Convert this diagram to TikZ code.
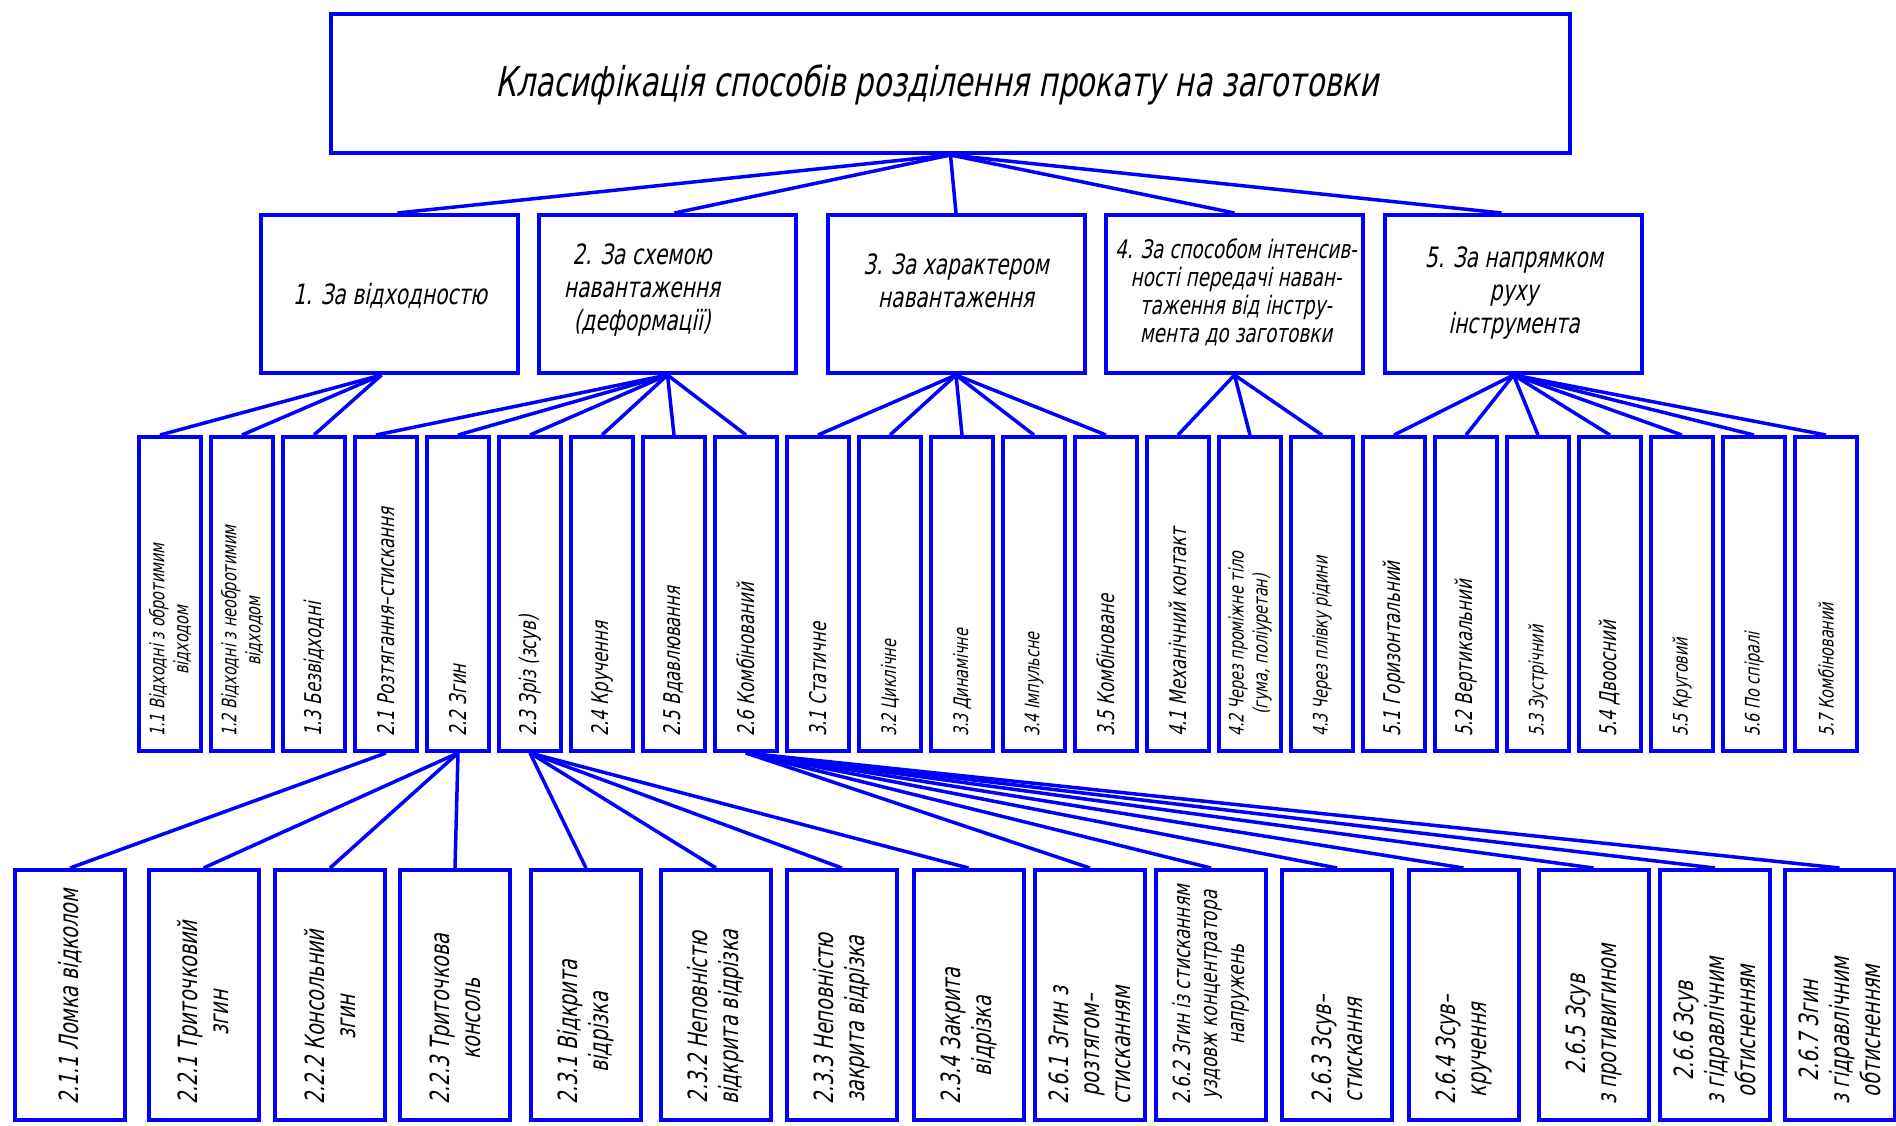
\documentclass[tikz,border=0pt]{standalone}
\usepackage{fontspec}
\newfontfamily\gost{DejaVu Sans}[FakeStretch=0.72,FakeSlant=0.2]
\begin{document}
\begin{tikzpicture}[x=1pt,y=-1pt,
  box/.style={draw=blue, line width=4pt, fill=white, inner sep=0pt},
  topbox/.style={box, minimum width=1239, minimum height=139},
  boxA/.style={box, minimum width=257, minimum height=158},
  boxB/.style={box, minimum width=62, minimum height=314},
  boxC/.style={box, minimum width=110, minimum height=250},
  conn/.style={draw=blue, line width=3.5pt},
  ttl/.style={font=\gost\fontsize{41}{48}\selectfont, inner sep=0pt},
  txA/.style={font=\gost\fontsize{28}{33}\selectfont, align=center, inner sep=0pt},
  txA4/.style={font=\gost\fontsize{25.5}{28}\selectfont, align=center, inner sep=0pt},
  txB/.style={font=\gost\fontsize{23}{26}\selectfont, align=center, inner sep=0pt, rotate=90, anchor=west},
  txBs/.style={font=\gost\fontsize{20}{24}\selectfont, align=center, inner sep=0pt, rotate=90, anchor=west},
  txC/.style={font=\gost\fontsize{26.5}{31}\selectfont, align=center, inner sep=0pt, rotate=90, anchor=west},
  txCs/.style={font=\gost\fontsize{23.5}{27}\selectfont, align=center, inner sep=0pt, rotate=90, anchor=west}
]
\fill[white] (0,0) rectangle (1896,1125);
\useasboundingbox (0,0) rectangle (1896,1125);

% ---------- top ----------
\node[topbox] (top) at (950.5,83.5) {};
\node[ttl] (ttop) at (937,85) {Класифікація способів розділення прокату на заготовки};

% ---------- level 1 ----------
\node[boxA] (b1) at (389.5,294) {};
\node[boxA] (b2) at (667.5,294) {};
\node[boxA] (b3) at (956,294) {};
\node[boxA] (b4) at (1234.5,294) {};
\node[boxA] (b5) at (1513.5,294) {};
\node[txA] (tb1) at (390,296) {1. За відходностю};
\node[txA] (tb2) at (642,290) {2. За схемою\\навантаження\\(деформації)};
\node[txA] (tb3) at (956,281) {3. За характером\\навантаження};
\node[txA4] (tb4) at (1236,292) {4. За способом інтенсив-\\ності передачі наван-\\таження від інстру-\\мента до заготовки};
\node[txA] (tb5) at (1514,293) {5. За напрямком\\руху\\інструмента};

% ---------- level 2 ----------
\node[boxB] (n11) at (170,594) {};
\node[boxB] (n12) at (242,594) {};
\node[boxB] (n13) at (314,594) {};
\node[boxB] (n21) at (386,594) {};
\node[boxB] (n22) at (458,594) {};
\node[boxB] (n23) at (530,594) {};
\node[boxB] (n24) at (602,594) {};
\node[boxB] (n25) at (674,594) {};
\node[boxB] (n26) at (746,594) {};
\node[boxB] (n31) at (818,594) {};
\node[boxB] (n32) at (890,594) {};
\node[boxB] (n33) at (962,594) {};
\node[boxB] (n34) at (1034,594) {};
\node[boxB] (n35) at (1106,594) {};
\node[boxB] (n41) at (1178,594) {};
\node[boxB] (n42) at (1250,594) {};
\node[boxB] (n43) at (1322,594) {};
\node[boxB] (n51) at (1394,594) {};
\node[boxB] (n52) at (1466,594) {};
\node[boxB] (n53) at (1538,594) {};
\node[boxB] (n54) at (1610,594) {};
\node[boxB] (n55) at (1682,594) {};
\node[boxB] (n56) at (1754,594) {};
\node[boxB] (n57) at (1826,594) {};

\node[txBs] (t11) at ([yshift=16pt]n11.south) {1.1 Відходні з обротимим\\відходом};
\node[txBs] (t12) at ([yshift=16pt]n12.south) {1.2 Відходні з необротимим\\відходом};
\node[txB] (t13) at ([yshift=16pt]n13.south) {1.3 Безвідходні};
\node[txB] (t21) at ([yshift=16pt]n21.south) {2.1 Розтягання–стискання};
\node[txB] (t22) at ([yshift=16pt]n22.south) {2.2 Згин};
\node[txB] (t23) at ([yshift=16pt]n23.south) {2.3 Зріз (зсув)};
\node[txB] (t24) at ([yshift=16pt]n24.south) {2.4 Кручення};
\node[txB] (t25) at ([yshift=16pt]n25.south) {2.5 Вдавлювання};
\node[txB] (t26) at ([yshift=16pt]n26.south) {2.6 Комбінований};
\node[txB] (t31) at ([yshift=16pt]n31.south) {3.1 Статичне};
\node[txBs] (t32) at ([yshift=16pt]n32.south) {3.2 Циклічне};
\node[txBs] (t33) at ([yshift=16pt]n33.south) {3.3 Динамічне};
\node[txBs] (t34) at ([yshift=16pt]n34.south) {3.4 Імпульсне};
\node[txB] (t35) at ([yshift=16pt]n35.south) {3.5 Комбіноване};
\node[txB] (t41) at ([yshift=16pt]n41.south) {4.1 Механічний контакт};
\node[txBs] (t42) at ([yshift=16pt]n42.south) {4.2 Через проміжне тіло\\(гума, поліуретан)};
\node[txBs] (t43) at ([yshift=16pt]n43.south) {4.3 Через плівку рідини};
\node[txB] (t51) at ([yshift=16pt]n51.south) {5.1 Горизонтальний};
\node[txB] (t52) at ([yshift=16pt]n52.south) {5.2 Вертикальний};
\node[txBs] (t53) at ([yshift=16pt]n53.south) {5.3 Зустрічний};
\node[txB] (t54) at ([yshift=16pt]n54.south) {5.4 Двоосний};
\node[txBs] (t55) at ([yshift=16pt]n55.south) {5.5 Круговий};
\node[txBs] (t56) at ([yshift=16pt]n56.south) {5.6 По спіралі};
\node[txBs] (t57) at ([yshift=16pt]n57.south) {5.7 Комбінований};

% ---------- level 3 ----------
\node[boxC] (m211) at (70,995) {};
\node[boxC] (m221) at (203.5,995) {};
\node[boxC] (m222) at (330,995) {};
\node[boxC] (m223) at (455,995) {};
\node[boxC] (m231) at (586,995) {};
\node[boxC] (m232) at (716,995) {};
\node[boxC] (m233) at (842,995) {};
\node[boxC] (m234) at (968.5,995) {};
\node[boxC] (m261) at (1090,995) {};
\node[boxC] (m262) at (1211,995) {};
\node[boxC] (m263) at (1337,995) {};
\node[boxC] (m264) at (1463.5,995) {};
\node[boxC] (m265) at (1593.5,995) {};
\node[boxC] (m266) at (1715,995) {};
\node[boxC] (m267) at (1839.5,995) {};

\node[txC] (s211) at ([yshift=17pt]m211.south) {2.1.1 Ломка відколом};
\node[txC] (s221) at ([yshift=17pt]m221.south) {2.2.1 Триточковий\\згин};
\node[txC] (s222) at ([yshift=17pt]m222.south) {2.2.2 Консольний\\згин};
\node[txC] (s223) at ([yshift=17pt]m223.south) {2.2.3 Триточкова\\консоль};
\node[txC] (s231) at ([yshift=17pt]m231.south) {2.3.1 Відкрита\\відрізка};
\node[txC] (s232) at ([yshift=17pt]m232.south) {2.3.2 Неповністю\\відкрита відрізка};
\node[txC] (s233) at ([yshift=17pt]m233.south) {2.3.3 Неповністю\\закрита відрізка};
\node[txC] (s234) at ([yshift=17pt]m234.south) {2.3.4 Закрита\\відрізка};
\node[txC] (s261) at ([yshift=17pt]m261.south) {2.6.1 Згин з\\розтягом–\\стисканням};
\node[txCs] (s262) at ([yshift=17pt]m262.south) {2.6.2 Згин із стисканням\\уздовж концентратора\\напружень};
\node[txC] (s263) at ([yshift=17pt]m263.south) {2.6.3 Зсув–\\стискання};
\node[txC] (s264) at ([yshift=17pt]m264.south) {2.6.4 Зсув–\\кручення};
\node[txC] (s265) at ([yshift=17pt]m265.south) {2.6.5 Зсув\\з противигином};
\node[txC] (s266) at ([yshift=17pt]m266.south) {2.6.6 Зсув\\з гідравлічним\\обтисненням};
\node[txC] (s267) at ([yshift=17pt]m267.south) {2.6.7 Згин\\з гідравлічним\\обтисненням};

% ---------- connectors ----------
\draw[conn] (top.south) -- ([xshift=8pt]b1.north);
\draw[conn] (top.south) -- ([xshift=7pt]b2.north);
\draw[conn] (top.south) -- (b3.north);
\draw[conn] (top.south) -- (b4.north);
\draw[conn] (top.south) -- ([xshift=-12pt]b5.north);

\draw[conn] ([xshift=-8pt]b1.south) -- ([xshift=-10pt]n11.north);
\draw[conn] ([xshift=-8pt]b1.south) -- (n12.north);
\draw[conn] ([xshift=-8pt]b1.south) -- (n13.north);

\draw[conn] (b2.south) -- ([xshift=-10pt]n21.north);
\foreach \c in {n22,n23,n24,n25,n26} \draw[conn] (b2.south) -- (\c.north);
\foreach \c in {n31,n32,n33,n34,n35} \draw[conn] (b3.south) -- (\c.north);
\foreach \c in {n41,n42,n43} \draw[conn] (b4.south) -- (\c.north);
\foreach \c in {n51,n52,n53,n54,n55,n56,n57} \draw[conn] (b5.south) -- (\c.north);

\draw[conn] (n21.south) -- (m211.north);
\foreach \c in {m221,m222,m223} \draw[conn] (n22.south) -- (\c.north);
\foreach \c in {m231,m232,m233,m234} \draw[conn] (n23.south) -- (\c.north);
\foreach \c in {m261,m262,m263,m264,m265,m266,m267} \draw[conn] (n26.south) -- (\c.north);
\end{tikzpicture}
\end{document}
